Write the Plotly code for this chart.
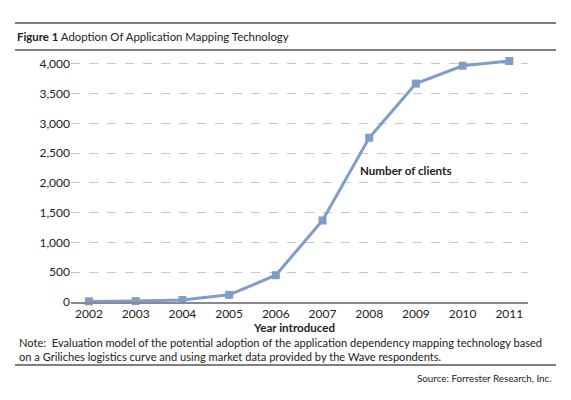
import plotly.graph_objects as go

years = [2002, 2003, 2004, 2005, 2006, 2007, 2008, 2009, 2010, 2011]
clients = [10, 15, 35, 120, 450, 1370, 2760, 3670, 3970, 4050]
y_ticks = [0, 500, 1000, 1500, 2000, 2500, 3000, 3500, 4000]
y_tick_labels = ["0", "500", "1,000", "1,500", "2,000", "2,500", "3,000", "3,500", "4,000"]

W, H = 571, 400
L, R, T, B = 71, 528, 58, 301.7

def px(x):
    return (x - L) / (R - L)

def py(y):
    return (B - y) / (B - T)

FONT = "Lato"
line_color = "#7f9ccb"

fig = go.Figure()
fig.add_trace(go.Scatter(
    x=years, y=clients, mode="lines+markers",
    line=dict(color=line_color, width=3),
    marker=dict(symbol="square", size=8, color=line_color),
    cliponaxis=False, showlegend=False, hoverinfo="x+y"))

fig.update_layout(
    width=W, height=H,
    margin=dict(l=L, r=W - R, t=T, b=H - B),
    paper_bgcolor="white", plot_bgcolor="white",
    font=dict(family=FONT, color="#222", size=12),
    xaxis=dict(range=[2001.615, 2011.4], tickmode="array", tickvals=years,
               ticktext=[str(y) for y in years], showgrid=False, zeroline=False,
               showline=True, linecolor="#8a8a8a", linewidth=1.5,
               ticks="", tickfont=dict(size=12, family=FONT)),
    yaxis=dict(range=[0, 4100], tickmode="array", tickvals=y_ticks,
               ticktext=y_tick_labels, showgrid=True, gridcolor="#c8c8c8",
               griddash="dash", gridwidth=1, zeroline=False, showline=False,
               ticks="", ticklen=4, tickfont=dict(size=12, family=FONT)),
)

shapes = []
for yy in [23, 50, 364.5]:
    shapes.append(dict(type="line", xref="paper", yref="paper",
                       x0=px(15), x1=px(556), y0=py(yy), y1=py(yy),
                       line=dict(color="#555", width=1.5)))
fig.update_layout(shapes=shapes)

anns = [
    dict(text="<b>Figure 1</b> Adoption Of Application Mapping Technology",
         x=px(15), y=py(37), xanchor="left", yanchor="middle", font=dict(size=11.4)),
    dict(text="<b>Year introduced</b>", x=px(294), y=py(327),
         xanchor="center", yanchor="middle", font=dict(size=11.6)),
    dict(text="<b>Number of clients</b>", x=px(405), y=py(170),
         xanchor="center", yanchor="middle", font=dict(size=11.6)),
    dict(text="Note:  Evaluation model of the potential adoption of the application dependency mapping technology based<br>on a Griliches logistics curve and using market data provided by the Wave respondents.",
         x=px(17), y=py(349.5), xanchor="left", yanchor="middle", align="left",
         font=dict(size=11.1)),
    dict(text="Source: Forrester Research, Inc.", x=px(554), y=py(378),
         xanchor="right", yanchor="middle", font=dict(size=9.8)),
]
for a in anns:
    a.update(xref="paper", yref="paper", showarrow=False)
fig.update_layout(annotations=anns)

fig.write_html("out.html")
